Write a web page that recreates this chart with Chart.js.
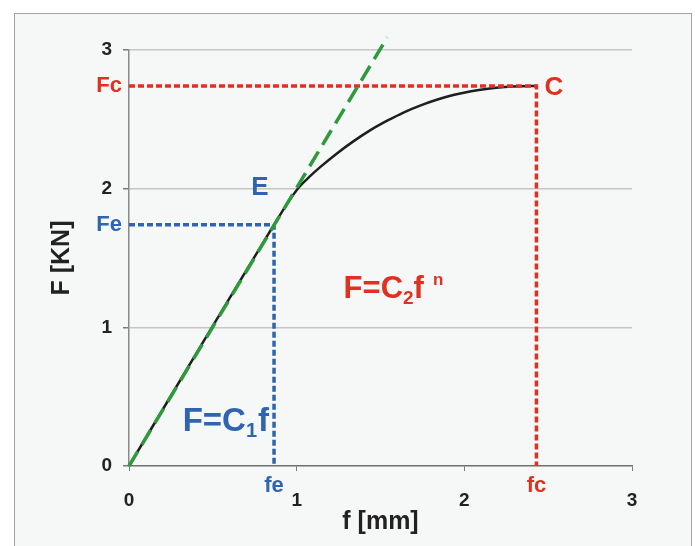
<!DOCTYPE html>
<html>
<head>
<meta charset="utf-8">
<title>F - f</title>
<script src="https://cdn.jsdelivr.net/npm/chart.js@4.4.1/dist/chart.umd.min.js"></script>
<style>
  html, body { margin: 0; padding: 0; background: #fff; }
  #wrap { position: relative; width: 695px; height: 546px; overflow: hidden; }
  #frame {
    position: absolute; left: 14px; top: 13px; width: 676px; height: 545px;
    background: #f6f7f7; border: 1.5px solid #a3a3a3; border-bottom: none;
  }
  canvas { position: absolute; left: 0; top: 0; }
</style>
</head>
<body>
<div id="wrap">
  <div id="frame"></div>
  <canvas id="chart" width="695" height="546"></canvas>
</div>
<script>
// load curve: displacement f [mm] -> force F [KN]
const curveDisp  = [0, 0.43, 0.865, 0.94, 1.01, 1.08, 1.14, 1.24, 1.34, 1.44, 1.54, 1.64,
                    1.74, 1.84, 1.94, 2.04, 2.14, 2.24, 2.34, 2.43];
const curveForce = [0, 0.87, 1.74, 1.885, 2.005, 2.09, 2.155, 2.254, 2.343, 2.422, 2.49, 2.551,
                    2.601, 2.643, 2.677, 2.703, 2.721, 2.733, 2.739, 2.74];

// elastic limit E and collapse point C
const pointE = { f: 0.865, F: 1.74 };
const pointC = { f: 2.43, F: 2.74 };

// initial stiffness line F = C1 f
const tangentDisp  = [0, 1.54];
const tangentForce = [0, 3.09];

const xTicks = [0, 1, 2, 3];
const yTicks = [0, 1, 2, 3];

const RED   = '#e1301f';
const BLUE  = '#2f64b0';
const GREEN = '#2f9a3b';
const FONT  = "'Liberation Sans', Arial, sans-serif";

const toPoints = (xs, ys) => xs.map((x, i) => ({ x, y: ys[i] }));

// dotted projections of a point onto both axes
const guide = (p) => [
  { x: 0, y: p.F },
  { x: p.f, y: p.F },
  { x: p.f, y: 0 },
];

const labelsPlugin = {
  id: 'labels',
  afterDatasetsDraw(chart) {
    const { ctx, scales: { x, y } } = chart;
    const px = v => x.getPixelForValue(v);
    const py = v => y.getPixelForValue(v);

    ctx.save();
    ctx.textBaseline = 'middle';

    // axis markers
    ctx.font = `bold 22px ${FONT}`;
    ctx.textAlign = 'right';
    ctx.fillStyle = RED;
    ctx.fillText('Fc', x.left - 7, py(pointC.F));
    ctx.fillStyle = BLUE;
    ctx.fillText('Fe', x.left - 7, py(pointE.F));

    ctx.textAlign = 'center';
    ctx.fillStyle = BLUE;
    ctx.fillText('fe', px(pointE.f), y.bottom + 20);
    ctx.fillStyle = RED;
    ctx.fillText('fc', px(pointC.f), y.bottom + 20);

    // point names
    ctx.font = `bold 26px ${FONT}`;
    ctx.fillStyle = BLUE;
    ctx.fillText('E', px(pointE.f) - 14, py(pointE.F) - 37);
    ctx.textAlign = 'left';
    ctx.fillStyle = RED;
    ctx.fillText('C', px(pointC.f) + 8, py(pointC.F) + 2);

    // formulas
    ctx.textBaseline = 'alphabetic';
    const formula = (parts, startX, baseY, color) => {
      let cx = startX;
      ctx.fillStyle = color;
      parts.forEach(([text, size, dy, gap]) => {
        ctx.font = `bold ${size}px ${FONT}`;
        cx += gap || 0;
        ctx.fillText(text, cx, baseY + dy);
        cx += ctx.measureText(text).width;
      });
    };

    formula([['F=C', 31, 0], ['2', 19, 6], ['f', 31, 0], ['n', 17, -13, 9]],
      px(1.28), py(1.21), RED);
    formula([['F=C', 33, 0], ['1', 20, 6], ['f', 33, 0, 1]],
      px(0.32), py(0.25), BLUE);

    ctx.restore();
  }
};

new Chart(document.getElementById('chart'), {
  type: 'scatter',
  data: {
    datasets: [
      {
        data: toPoints(tangentDisp, tangentForce),
        showLine: true,
        borderColor: GREEN,
        borderWidth: 3.5,
        borderDash: [17, 8],
        pointRadius: 0,
        clip: false,
      },
      {
        data: guide(pointC),
        showLine: true,
        borderColor: RED,
        borderWidth: 3.5,
        borderDash: [6, 3],
        pointRadius: 0,
      },
      {
        data: guide(pointE),
        showLine: true,
        borderColor: BLUE,
        borderWidth: 3.5,
        borderDash: [6, 3],
        pointRadius: 0,
      },
      {
        data: toPoints(curveDisp, curveForce),
        showLine: true,
        borderColor: '#1e1e1e',
        borderWidth: 2.5,
        cubicInterpolationMode: 'monotone',
        pointRadius: 0,
      },
    ],
  },
  options: {
    responsive: false,
    animation: false,
    layout: { padding: { left: 0, top: 50, right: 63, bottom: 0 } },
    plugins: {
      legend: { display: false },
      tooltip: { enabled: false },
    },
    scales: {
      x: {
        type: 'linear',
        min: 0,
        max: 3,
        afterFit: scale => { scale.height = 80; },
        afterBuildTicks: scale => { scale.ticks = xTicks.map(value => ({ value })); },
        grid: {
          drawOnChartArea: false,
          drawTicks: true,
          tickLength: 5,
          tickColor: '#7a7a7a',
        },
        border: { color: '#6f6f6f', width: 1.5 },
        ticks: {
          padding: 18,
          color: '#222',
          font: { family: FONT, size: 19, weight: 'bold' },
        },
        title: {
          display: true,
          text: 'f [mm]',
          color: '#222',
          padding: { top: 0, bottom: 9 },
          font: { family: FONT, size: 25, weight: 'bold' },
        },
      },
      y: {
        type: 'linear',
        min: 0,
        max: 3,
        afterFit: scale => { scale.width = 129; },
        afterBuildTicks: scale => { scale.ticks = yTicks.map(value => ({ value })); },
        grid: {
          color: ctx => ctx.tick && ctx.tick.value === 0 ? 'rgba(0,0,0,0)' : '#c6c6c6',
          lineWidth: 1.5,
          tickLength: 6,
          tickColor: '#7a7a7a',
        },
        border: { color: '#8a8a8a', width: 1.5 },
        ticks: {
          padding: 11,
          color: '#222',
          font: { family: FONT, size: 19, weight: 'bold' },
        },
        title: {
          display: true,
          text: 'F [KN]',
          color: '#222',
          padding: { top: 47, bottom: 0 },
          font: { family: FONT, size: 25, weight: 'bold' },
        },
      },
    },
  },
  plugins: [labelsPlugin],
});
</script>
</body>
</html>
